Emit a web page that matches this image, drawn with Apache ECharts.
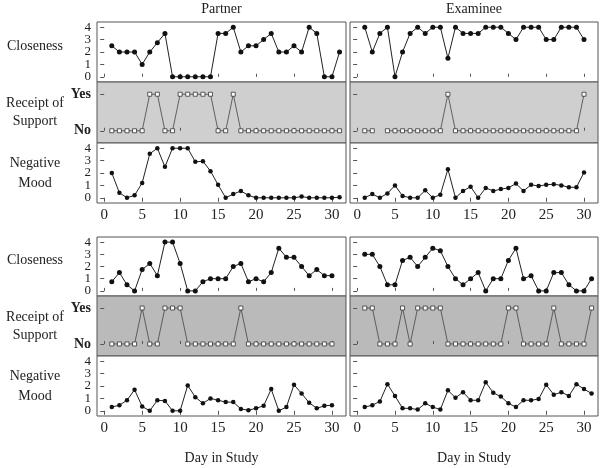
<!DOCTYPE html>
<html><head><meta charset="utf-8">
<script src="https://cdn.jsdelivr.net/npm/echarts@6/dist/echarts.min.js"></script>
<style>html,body{margin:0;padding:0;background:#fff}#c{width:600px;height:468px}</style>
</head><body><div id="c"></div>
<script>
// ---------- data ----------
const columns = ["Partner", "Examinee"];
const rowLabels = ["Closeness", "Receipt of\nSupport", "Negative\nMood"];
const supportLabels = ["No", "Yes"];
const xTicks = [0, 5, 10, 15, 20, 25, 30];
const yTicks = [0, 1, 2, 3, 4];
const xTitle = "Day in Study";

const days31 = [1,2,3,4,5,6,7,8,9,10,11,12,13,14,15,16,17,18,19,20,21,22,23,24,25,26,27,28,29,30,31];
const days30 = [1,2,3,4,5,6,7,8,9,10,11,12,13,14,15,16,17,18,19,20,21,22,23,24,25,26,27,28,29,30];

// Couple 1 (top)
const c1PartnerCloseness = [2.5,2,2,2,1,2,2.75,3.5,0,0,0,0,0,0,3.5,3.5,4,2,2.5,2.5,3,3.5,2,2,2.5,2,4,3.5,0,0,2];
const c1PartnerSupport   = [0,0,0,0,0,1,1,0,0,1,1,1,1,1,0,0,1,0,0,0,0,0,0,0,0,0,0,0,0,0,0];
const c1PartnerMood      = [2,0.4,0,0.2,1.2,3.55,4,2.5,4,4,4,2.9,2.95,2.15,1.05,0,0.3,0.55,0.2,0,0,0,0,0,0,0.1,0,0,0,0,0.05];
const c1ExamineeCloseness= [4,2,3.5,4,0,2,3.5,4,3.5,4,4,1.5,4,3.5,3.5,3.5,4,4,4,3.5,3,4,4,4,3,3,4,4,4,3];
const c1ExamineeSupport  = [0,0,'-',0,0,0,0,0,0,0,0,1,0,0,0,0,0,0,0,0,0,0,0,0,0,0,0,0,0,1];
const c1ExamineeMood     = [0,0.3,0,0.35,1,0.15,0,0,0.6,0,0.25,2.3,0,0.55,0.9,0,0.8,0.55,0.7,0.8,1.15,0.55,1.05,0.95,1.05,1.1,1,0.85,0.85,2.05];

// Couple 2 (bottom)
const c2PartnerCloseness = [0.75,1.5,0.5,0,1.75,2.25,1.25,4,4,2.25,0,0,0.75,1,1,1,2,2.25,0.75,1,0.75,1.5,3.5,2.75,2.75,2,1.25,1.75,1.25,1.25];
const c2PartnerSupport   = [0,0,0,0,1,0,0,1,1,1,0,0,0,0,0,0,0,1,0,0,0,0,0,0,0,0,0,0,0,0];
const c2PartnerMood      = [0.3,0.45,0.85,1.7,0.35,0,0.85,0.8,0,0,2.05,1.1,0.6,1,0.85,0.7,0.7,0.15,0.05,0.2,0.4,1.75,0,0.3,2.1,1.4,0.65,0.2,0.4,0.45];
const c2ExamineeCloseness= [3,3,2,0.5,0.5,2.5,2.75,2,2.75,3.5,3.3,2,1,0.5,1,1.5,0,1,1,2.5,3.5,1,1.25,0,0,1.5,1.5,0.5,0,0,1];
const c2ExamineeSupport  = [1,1,0,0,0,1,0,1,1,1,1,0,0,0,0,0,0,0,0,1,1,0,0,0,0,1,0,0,0,0,1];
const c2ExamineeMood     = [0.3,0.45,0.75,2.15,1.2,0.2,0.2,0.1,0.6,0.3,0.1,1.65,1.05,1.5,0.85,0.85,2.3,1.45,1.15,0.6,0.3,0.85,0.85,0.95,2.1,1.3,1.5,1.2,2.15,1.75,1.4];

// ---------- layout ----------
const FONT = '"Liberation Serif", "Times New Roman", serif';
const colBox = [{left: 97, width: 249}, {left: 350, width: 248}];
const blocks = [
  {rows: [{top: 22, h: 60}, {top: 82, h: 61}, {top: 143, h: 60}], supBg: '#cfcfcf',
   data: [[days31, c1PartnerCloseness, c1PartnerSupport, c1PartnerMood],
          [days30, c1ExamineeCloseness, c1ExamineeSupport, c1ExamineeMood]]},
  {rows: [{top: 237, h: 59}, {top: 296, h: 60}, {top: 356, h: 60}], supBg: '#bababa',
   data: [[days30, c2PartnerCloseness, c2PartnerSupport, c2PartnerMood],
          [days31, c2ExamineeCloseness, c2ExamineeSupport, c2ExamineeMood]]}
];

const grid = [], xAxis = [], yAxis = [], series = [], graphic = [];
let gi = 0;

function pairs(xs, ys) { return xs.map((x, i) => [x, ys[i]]); }

function yLabelStyle(isSup, show, values) {
  return {show: show, customValues: values,
    fontFamily: FONT, fontSize: isSup ? 14 : 13, color: '#222', margin: 6,
    fontWeight: isSup ? 'bold' : 'normal',
    formatter: isSup ? (v => supportLabels[Math.round(v)]) : (v => String(v))};
}

blocks.forEach((blk, b) => {
  for (let c = 0; c < 2; c++) {
    const [xs, clo, sup, mood] = blk.data[c];
    [clo, sup, mood].forEach((vals, r) => {
      const row = blk.rows[r];
      const isSup = r === 1;
      const isBottom = r === 2;
      const yMin = isSup ? -0.335 : -0.42, yMax = isSup ? 1.335 : 4.42;
      grid.push({left: colBox[c].left, width: colBox[c].width, top: row.top, height: row.h,
        show: true, borderColor: '#555', borderWidth: 1,
        backgroundColor: isSup ? blk.supBg : '#fff', containLabel: false});
      xAxis.push({type: 'value', gridIndex: gi, min: -0.95, max: 31.85,
        axisLine: {show: false}, splitLine: {show: false},
        axisTick: {show: true, inside: !isBottom, length: isBottom ? 4 : 3,
          customValues: xTicks, lineStyle: {color: '#555'}},
        axisLabel: {show: isBottom, customValues: xTicks, fontFamily: FONT, fontSize: 15,
          color: '#222', margin: 5}});
      const yIdx = yAxis.length;
      // main y axis: all ticks, labels at even values (or Yes/No)
      yAxis.push({type: 'value', gridIndex: gi, min: yMin, max: yMax, position: 'left',
        axisLine: {show: false}, splitLine: {show: false},
        axisTick: {show: true, inside: false, length: 4,
          customValues: isSup ? [0, 1] : yTicks, lineStyle: {color: '#555'}},
        axisLabel: yLabelStyle(isSup, c === 0, isSup ? [0, 1] : [0, 2, 4])});
      if (!isSup && c === 0) {
        // companion axis carrying the odd labels so ECharts does not thin them out
        yAxis.push({type: 'value', gridIndex: gi, min: yMin, max: yMax, position: 'left',
          axisLine: {show: false}, splitLine: {show: false}, axisTick: {show: false},
          axisLabel: yLabelStyle(false, true, [1, 3])});
      }
      series.push({type: 'line', xAxisIndex: gi, yAxisIndex: yIdx,
        data: pairs(xs, vals), connectNulls: false, animation: false,
        symbol: isSup ? 'rect' : 'circle',
        symbolSize: isSup ? 4 : (r === 0 ? 5 : 4.5),
        showAllSymbol: true,
        lineStyle: {color: isSup ? '#444' : '#222', width: isSup ? 0.8 : 1},
        itemStyle: isSup ? {color: '#fff', borderColor: '#333', borderWidth: 0.8}
                         : {color: '#111', borderWidth: 0}});
      gi++;
    });
  }
  // row labels
  const ty = blk.rows.map(r => r.top + r.h / 2);
  rowLabels.forEach((t, r) => {
    graphic.push({type: 'text', x: 35, y: ty[r] + (r === 0 ? -6 : 0),
      style: {text: t, textAlign: 'center', textVerticalAlign: 'middle',
        font: '14px ' + FONT, fill: '#222', lineHeight: r === 1 ? 18 : 20}});
  });
});

// column headers and axis titles
columns.forEach((t, c) => {
  const cx = colBox[c].left + colBox[c].width / 2;
  graphic.push({type: 'text', x: cx, y: 9,
    style: {text: t, textAlign: 'center', textVerticalAlign: 'middle', font: '14px ' + FONT, fill: '#222'}});
  graphic.push({type: 'text', x: cx, y: 458,
    style: {text: xTitle, textAlign: 'center', textVerticalAlign: 'middle', font: '14px ' + FONT, fill: '#222'}});
});

const chart = echarts.init(document.getElementById('c'), null, {renderer: 'canvas'});
chart.setOption({animation: false, grid, xAxis, yAxis, series, graphic});
</script></body></html>
